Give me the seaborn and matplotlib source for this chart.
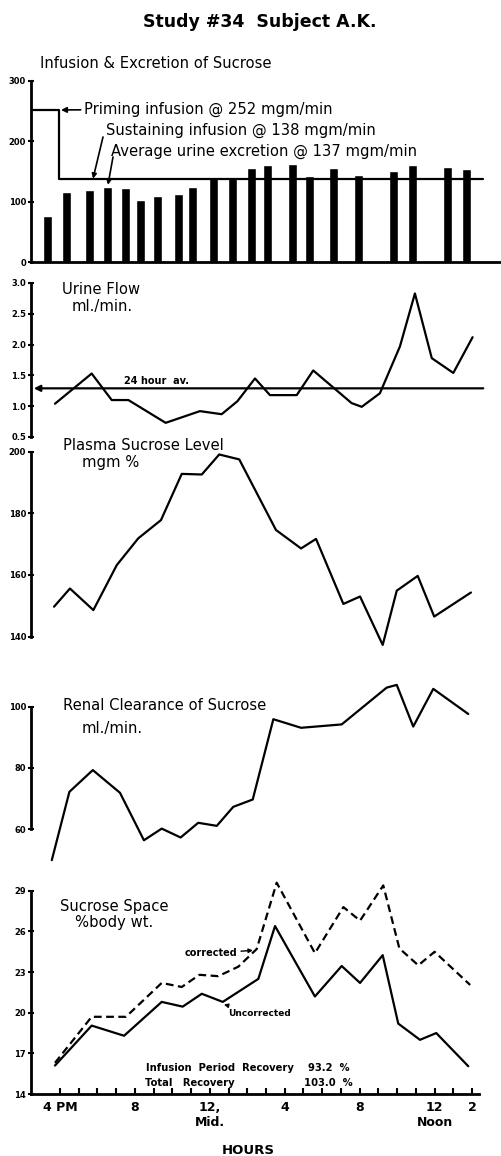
import matplotlib
matplotlib.use("Agg")
import matplotlib.pyplot as plt
import seaborn as sns

# --- data (x = clock hour, 16 = 4 PM, 24 = midnight, 36 = noon) ---

bar_hours = [15.34, 16.32, 17.6, 18.56, 19.5, 20.3, 21.2, 22.3, 23.1, 24.2, 25.2,
             26.2, 27.1, 28.4, 29.3, 30.6, 31.96, 33.8, 34.8, 36.7, 37.7]
excretion = [77, 116, 120, 124, 123, 103, 110, 112, 125, 140, 140,
             155, 160, 163, 142, 156, 145, 151, 160, 158, 154]
infusion_hours = [14.56, 15.95, 38.6]
infusion_rate = [252, 138, 138]

urine_hours = [15.73, 17.69, 18.76, 19.65, 21.64, 23.47, 24.63, 25.47, 26.41, 27.21,
               28.64, 29.52, 31.57, 32.11, 33.08, 34.15, 34.95, 35.85, 37.0, 38.03]
urine_flow = [1.04, 1.53, 1.10, 1.10, 0.73, 0.92, 0.87, 1.08, 1.45, 1.18,
              1.18, 1.58, 1.05, 0.99, 1.21, 1.97, 2.83, 1.78, 1.54, 2.12]
urine_avg = 1.29

plasma_hours = [15.68, 16.53, 17.78, 19.03, 20.18, 21.39, 22.5, 23.57, 24.5, 25.57,
                27.53, 28.87, 29.67, 31.13, 32.02, 33.23, 33.98, 35.1, 35.98, 37.94]
plasma = [149.7, 155.6, 148.6, 163.2, 171.9, 177.8, 192.8, 192.6, 199.1, 197.5,
          174.6, 168.6, 171.7, 150.6, 153.0, 137.3, 154.9, 159.7, 146.5, 154.3]

renal_hours = [15.56, 16.5, 17.75, 19.2, 20.48, 21.43, 22.44, 23.38, 24.37, 25.25,
               26.29, 27.39, 28.87, 31.04, 33.44, 33.98, 34.86, 35.93, 37.8]
renal = [49.9, 72.2, 79.3, 71.9, 56.4, 60.2, 57.3, 62.1, 61.1, 67.3,
         69.7, 95.9, 93.1, 94.2, 106.2, 107.1, 93.5, 105.8, 97.6]

uncorr_hours = [15.73, 17.69, 19.42, 21.43, 22.55, 23.57, 24.69, 26.59, 27.48,
                29.61, 31.04, 32.02, 33.23, 34.06, 35.22, 36.09, 37.8]
uncorrected = [16.1, 19.05, 18.3, 20.8, 20.45, 21.4, 20.8, 22.5, 26.4,
               21.2, 23.45, 22.2, 24.25, 19.2, 18.0, 18.5, 16.05]
corr_hours = [15.73, 17.69, 19.52, 21.43, 22.5, 23.44, 24.45, 25.52, 26.5,
              27.57, 29.61, 31.13, 32.02, 33.26, 34.12, 35.13, 36.0, 37.9]
corrected = [16.3, 19.7, 19.7, 22.2, 21.9, 22.8, 22.7, 23.4, 24.7,
             29.6, 24.4, 27.8, 26.8, 29.4, 24.75, 23.5, 24.5, 22.05]

hour_ticks = list(range(16, 39))
hour_labels = {16: "4 PM", 20: "8", 24: "12,\nMid.", 28: "4", 32: "8", 36: "12\nNoon", 38: "2"}

# --- layout helpers ---
W, H = 502, 1156
XLIM = (14.45, 39.6)
LW = 1.6
LABEL_SIZE = 10.6

sns.set_theme(style="white")
plt.rcParams["font.family"] = ["DejaVu Sans"]
plt.rcParams["text.color"] = "black"
plt.rcParams["xtick.color"] = "black"
plt.rcParams["ytick.color"] = "black"

fig = plt.figure(figsize=(W / 100, H / 100), dpi=100)


def px(x, y):
    return (x / W, 1 - y / H)


def make_axes(top, bottom, ylim, ticks, bounds, labels=None):
    ax = fig.add_axes([31 / W, 1 - bottom / H, (W - 31) / W, (bottom - top) / H])
    ax.set_xlim(*XLIM)
    ax.set_ylim(*ylim)
    ax.patch.set_alpha(0)
    for s in ["top", "right"]:
        ax.spines[s].set_visible(False)
    ax.spines["left"].set_bounds(*bounds)
    ax.spines["left"].set_linewidth(2)
    ax.spines["left"].set_color("black")
    ax.spines["bottom"].set_visible(False)
    ax.set_yticks(ticks)
    ax.set_yticklabels(labels if labels else [str(t) for t in ticks],
                       fontsize=6, fontweight="bold")
    ax.tick_params(axis="y", direction="inout", length=5, width=1.5, pad=1, left=True)
    ax.set_xticks([])
    ax.set_xlabel("")
    ax.set_ylabel("")
    return ax


def label(x, y, s, size=LABEL_SIZE, weight="normal", ha="left", **kw):
    fig.text(*px(x, y), s, fontsize=size, fontweight=weight, ha=ha, va="center", **kw)


def arrow(ax, xy, start, text="", size=7, lw=1.2, head=7):
    ax.annotate(text, xy=xy, xytext=px(*start), textcoords="figure fraction",
                va="center", fontsize=size, fontweight="bold",
                arrowprops=dict(arrowstyle="-|>", color="black", lw=lw,
                                mutation_scale=head, shrinkA=0, shrinkB=0))


# title
label(260, 22, "Study #34  Subject A.K.", size=12.5, weight="heavy", ha="center")

# --- panel 1: infusion & excretion ---
ax1 = make_axes(81, 262, (0, 300), [0, 100, 200, 300], (0, 300))
ax1.spines["bottom"].set_visible(True)
ax1.spines["bottom"].set_linewidth(2)
ax1.spines["bottom"].set_color("black")
sns.barplot(x=bar_hours, y=excretion, native_scale=True, width=0.6,
            color="black", saturation=1, ax=ax1)
sns.lineplot(x=infusion_hours, y=infusion_rate, drawstyle="steps-post",
             color="black", lw=LW, ax=ax1)
ax1.set_xlim(*XLIM)
ax1.set_xticks([])
label(40, 64, "Infusion & Excretion of Sucrose")
ax1.annotate("Priming infusion @ 252 mgm/min", xy=(16.05, 252),
             xytext=px(84, 109), textcoords="figure fraction", va="center",
             fontsize=LABEL_SIZE, arrowprops=dict(arrowstyle="-|>", color="black", lw=1.2,
                                                  mutation_scale=8, shrinkA=0, shrinkB=0))
arrow(ax1, (17.76, 138), (103, 137))
arrow(ax1, (18.56, 128), (113, 157))
label(106, 130, "Sustaining infusion @ 138 mgm/min")
label(111, 151, "Average urine excretion @ 137 mgm/min")

# --- panel 2: urine flow ---
ax2 = make_axes(283, 437, (0.5, 3.0), [0.5, 1.0, 1.5, 2.0, 2.5, 3.0], (0.5, 3.0),
                ["0.5", "1.0", "1.5", "2.0", "2.5", "3.0"])
sns.lineplot(x=urine_hours, y=urine_flow, color="black", lw=LW, ax=ax2)
ax2.annotate("", xy=(14.6, urine_avg), xytext=(38.6, urine_avg),
             arrowprops=dict(arrowstyle="-|>", color="black", lw=LW,
                             mutation_scale=9, shrinkA=0, shrinkB=0))
label(157, 381, "24 hour  av.", size=7, weight="bold", ha="center")
label(62, 290, "Urine Flow")
label(72, 307, "ml./min.")

# --- panel 3: plasma sucrose ---
ax3 = make_axes(451.7, 652, (135, 200), [140, 160, 180, 200], (140, 200))
sns.lineplot(x=plasma_hours, y=plasma, color="black", lw=LW, ax=ax3)
label(63, 445, "Plasma Sucrose Level")
label(82, 463, "mgm %")

# --- panel 4: renal clearance ---
ax4 = make_axes(676, 866, (48, 110), [60, 80, 100], (60, 100))
sns.lineplot(x=renal_hours, y=renal, color="black", lw=LW, ax=ax4)
label(63, 705, "Renal Clearance of Sucrose")
label(82, 728, "ml./min.")

# --- panel 5: sucrose space ---
ax5 = make_axes(880, 1094, (14, 29.8), [14, 17, 20, 23, 26, 29], (14, 29))
sns.lineplot(x=corr_hours, y=corrected, color="black", lw=LW, ls=(0, (3.5, 2)), ax=ax5)
sns.lineplot(x=uncorr_hours, y=uncorrected, color="black", lw=LW, ax=ax5)
ax5.spines["bottom"].set_visible(True)
ax5.spines["bottom"].set_bounds(XLIM[0], 38.37)
ax5.spines["bottom"].set_linewidth(2)
ax5.spines["bottom"].set_color("black")
ax5.set_xticks(hour_ticks)
ax5.set_xticklabels([hour_labels.get(h, "") for h in hour_ticks],
                    fontsize=9, fontweight="bold", linespacing=1.2)
ax5.tick_params(axis="x", direction="in", length=4, width=1.5, pad=5, bottom=True)
label(60, 907, "Sucrose Space")
label(75, 923, "%body wt.")
arrow(ax5, (26.3, 24.6), (185, 953), "corrected", size=7, lw=1.0, head=6)
arrow(ax5, (24.75, 20.6), (228, 1013), "Uncorrected", size=6.5, lw=1.0, head=6)
label(146, 1068, "Infusion  Period  Recovery", size=7.2, weight="bold")
label(308, 1068, "93.2  %", size=7.2, weight="bold")
label(145, 1083, "Total   Recovery", size=7.2, weight="bold")
label(304, 1083, "103.0  %", size=7.2, weight="bold")
label(248, 1150, "HOURS", size=9.5, weight="bold", ha="center")

for ax in [ax1, ax2, ax3, ax4, ax5]:
    if ax.get_legend():
        ax.get_legend().remove()

fig.savefig("out.png", dpi=100)
